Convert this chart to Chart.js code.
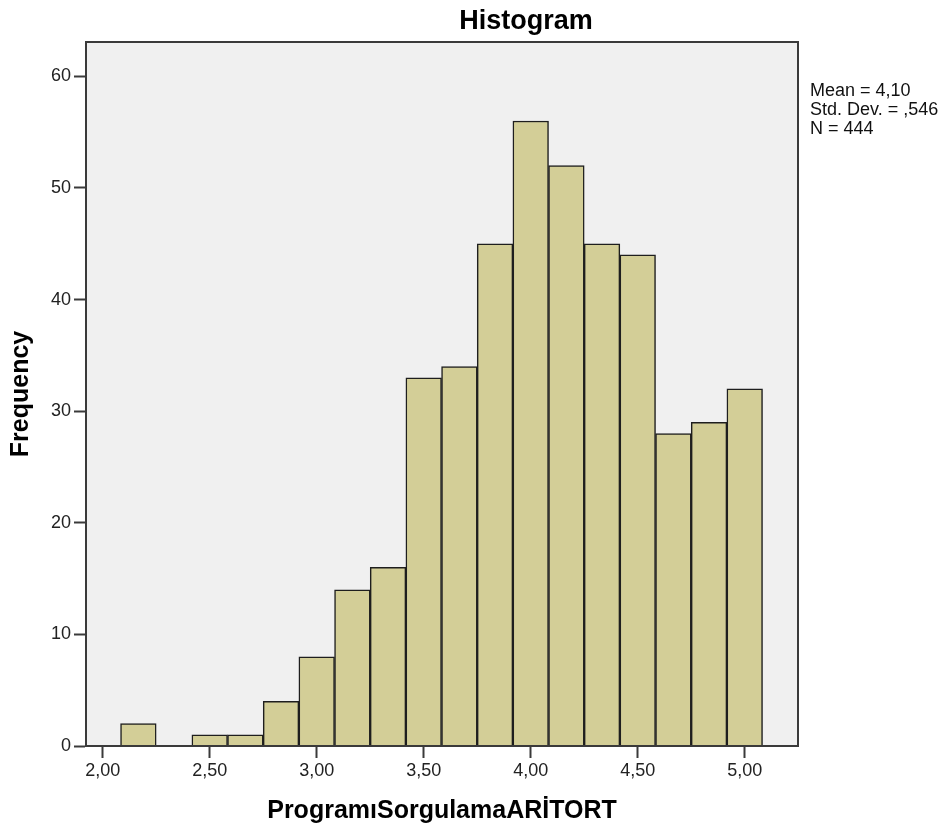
<!DOCTYPE html>
<html>
<head>
<meta charset="utf-8">
<script src="https://cdn.jsdelivr.net/npm/chart.js@4.4.0/dist/chart.umd.min.js"></script>
<style>
  body { margin: 0; background: #fff; }
</style>
</head>
<body>
<canvas id="grafico" width="949" height="830"></canvas>
<script>
// centros das classes do histograma (largura 1/6)
const binCenters = [2.1667, 2.3333, 2.5, 2.6667, 2.8333, 3.0, 3.1667, 3.3333, 3.5,
  3.6667, 3.8333, 4.0, 4.1667, 4.3333, 4.5, 4.6667, 4.8333, 5.0];
const frequencies = [2, 0, 1, 1, 4, 8, 14, 16, 33, 34, 45, 56, 52, 45, 44, 28, 29, 32];
const chartTitle = 'Histogram';
const xTitle = 'ProgramıSorgulamaARİTORT';
const yTitle = 'Frequency';
const statLines = ['Mean = 4,10', 'Std. Dev. = ,546', 'N = 444'];

const FONTE = '"Liberation Sans", Arial, sans-serif';
const COR_EIXO = '#3a3a3a';
Chart.defaults.font.family = FONTE;

const fundoEStats = {
  id: 'fundoEStats',
  beforeDraw(chart) {
    const { ctx, chartArea: a } = chart;
    ctx.save();
    ctx.fillStyle = '#fff';
    ctx.fillRect(0, 0, chart.width, chart.height);
    ctx.fillStyle = '#f0f0f0';
    ctx.fillRect(a.left, a.top, a.right - a.left, a.bottom - a.top);
    ctx.restore();
  },
  afterDraw(chart) {
    const { ctx, chartArea: a } = chart;
    ctx.save();
    ctx.strokeStyle = COR_EIXO;
    ctx.lineWidth = 2;
    ctx.strokeRect(a.left, a.top, a.right - a.left, a.bottom - a.top);

    ctx.fillStyle = '#000';
    ctx.textAlign = 'center';
    ctx.textBaseline = 'alphabetic';
    ctx.font = 'bold 27px ' + FONTE;
    ctx.fillText(chartTitle, 526, 29);

    ctx.textAlign = 'left';
    ctx.fillStyle = '#111';
    ctx.font = '18px ' + FONTE;
    statLines.forEach((t, i) => ctx.fillText(t, 810, 95.5 + i * 19.3));
    ctx.restore();
  }
};

const ctx = document.getElementById('grafico').getContext('2d');

new Chart(ctx, {
  type: 'bar',
  data: {
    datasets: [{
      label: yTitle,
      data: binCenters.map((x, i) => ({ x: x, y: frequencies[i] })),
      backgroundColor: '#d3ce97',
      borderColor: '#1e1e1e',
      borderWidth: c => (c.parsed && c.parsed.y === 0) ? 0 : 1.5,
      barPercentage: 1,
      categoryPercentage: 1
    }]
  },
  options: {
    responsive: false,
    animation: false,
    layout: { padding: { left: 0, top: 42, right: 151, bottom: 0 } },
    plugins: {
      legend: { display: false },
      tooltip: { enabled: false }
    },
    scales: {
      x: {
        type: 'linear',
        offset: false,
        min: 1.922,
        max: 5.249,
        afterFit: s => { s.height = 84; },
        grid: {
          display: true, offset: false, drawOnChartArea: false, drawTicks: true,
          tickLength: 12, tickWidth: 2, tickColor: COR_EIXO
        },
        border: { display: true, color: COR_EIXO, width: 2 },
        ticks: {
          stepSize: 0.5,
          includeBounds: false,
          padding: 2,
          color: '#222',
          font: { size: 18 },
          maxRotation: 0,
          callback: v => v.toFixed(2).replace('.', ',')
        },
        title: {
          display: true, text: xTitle, color: '#000',
          font: { size: 25, weight: 'bold' },
          padding: { top: 0, bottom: 4 }
        }
      },
      y: {
        min: 0,
        max: 63.08,
        afterFit: s => { s.width = 86; },
        grid: {
          display: true, drawOnChartArea: false, drawTicks: true,
          tickLength: 12, tickWidth: 2, tickColor: COR_EIXO
        },
        border: { display: true, color: COR_EIXO, width: 2 },
        ticks: {
          stepSize: 10,
          includeBounds: false,
          padding: 3,
          color: '#222',
          font: { size: 18 }
        },
        title: {
          display: true, text: yTitle, color: '#000',
          font: { size: 25, weight: 'bold' },
          padding: { top: 6, bottom: 0 }
        }
      }
    }
  },
  plugins: [fundoEStats]
});
</script>
</body>
</html>
